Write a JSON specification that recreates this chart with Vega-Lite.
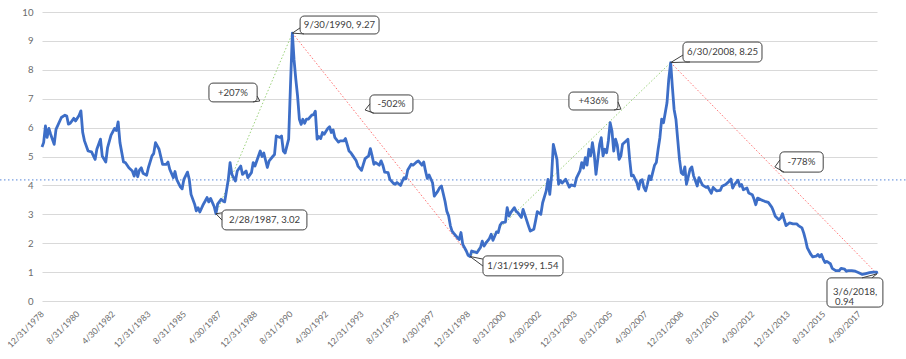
{
  "$schema": "https://vega.github.io/schema/vega-lite/v6.json",
  "width": 835,
  "height": 289,
  "autosize": {"type": "none"},
  "padding": {"left": 42, "top": 12, "right": 29, "bottom": 58},
  "background": "white",
  "config": {"view": {"stroke": null}, "font": "Lato"},
  "datasets": {
    "series": [
      {"d":"1978-12-31","v":5.33},{"d":"1979-01-28","v":5.48},{"d":"1979-02-28","v":6.06},{"d":"1979-03-28","v":5.66},{"d":"1979-04-28","v":5.97},{"d":"1979-05-28","v":5.77},{"d":"1979-07-28","v":5.42},{"d":"1979-08-28","v":5.94},{"d":"1979-11-28","v":6.35},
      {"d":"1980-01-28","v":6.43},{"d":"1980-02-28","v":6.4},{"d":"1980-03-28","v":6.12},{"d":"1980-04-28","v":6.15},{"d":"1980-06-28","v":6.32},{"d":"1980-07-28","v":6.23},{"d":"1980-09-28","v":6.43},{"d":"1980-10-28","v":6.58},{"d":"1980-11-28","v":5.83},{"d":"1980-12-28","v":5.54},
      {"d":"1981-02-28","v":5.19},{"d":"1981-04-28","v":5.16},{"d":"1981-06-28","v":4.9},{"d":"1981-07-28","v":5.25},{"d":"1981-09-28","v":5.6},{"d":"1981-10-28","v":5.02},{"d":"1981-12-28","v":4.81},
      {"d":"1982-01-28","v":5.31},{"d":"1982-03-28","v":5.74},{"d":"1982-05-28","v":5.97},{"d":"1982-06-28","v":5.9},{"d":"1982-07-28","v":6.2},{"d":"1982-08-28","v":5.48},{"d":"1982-10-28","v":4.81},{"d":"1982-11-28","v":4.79},
      {"d":"1983-01-28","v":4.61},{"d":"1983-03-28","v":4.5},{"d":"1983-04-28","v":4.32},{"d":"1983-05-28","v":4.57},{"d":"1983-06-28","v":4.3},{"d":"1983-07-28","v":4.53},{"d":"1983-08-28","v":4.61},{"d":"1983-09-28","v":4.42},{"d":"1983-11-28","v":4.35},{"d":"1983-12-28","v":4.61},
      {"d":"1984-02-28","v":5.02},{"d":"1984-03-28","v":5.1},{"d":"1984-04-28","v":5.48},{"d":"1984-06-28","v":5.25},{"d":"1984-08-28","v":4.73},{"d":"1984-10-28","v":4.73},{"d":"1984-11-28","v":4.81},{"d":"1984-12-28","v":4.56},
      {"d":"1985-02-28","v":4.27},{"d":"1985-03-28","v":4.48},{"d":"1985-04-28","v":4.2},{"d":"1985-06-28","v":3.95},{"d":"1985-07-28","v":3.88},{"d":"1985-08-28","v":4.21},{"d":"1985-10-28","v":4.46},{"d":"1985-11-28","v":4.21},{"d":"1985-12-28","v":3.69},
      {"d":"1986-02-28","v":3.35},{"d":"1986-03-28","v":3.12},{"d":"1986-04-28","v":3.23},{"d":"1986-05-28","v":3.08},{"d":"1986-07-28","v":3.35},{"d":"1986-08-28","v":3.46},{"d":"1986-09-28","v":3.58},{"d":"1986-10-28","v":3.43},{"d":"1986-11-28","v":3.55},
      {"d":"1987-01-28","v":3.27},{"d":"1987-02-28","v":3.02},{"d":"1987-03-28","v":3.35},{"d":"1987-05-28","v":3.52},{"d":"1987-06-28","v":3.46},{"d":"1987-07-28","v":3.43},{"d":"1987-09-28","v":4.21},{"d":"1987-10-28","v":4.79},{"d":"1987-11-28","v":4.38},
      {"d":"1988-01-28","v":4.15},{"d":"1988-02-28","v":4.5},{"d":"1988-04-28","v":4.67},{"d":"1988-05-28","v":4.38},{"d":"1988-07-28","v":4.5},{"d":"1988-08-28","v":4.27},{"d":"1988-10-28","v":4.44},{"d":"1988-11-28","v":4.79},{"d":"1988-12-28","v":4.67},
      {"d":"1989-03-28","v":5.19},{"d":"1989-04-28","v":5.0},{"d":"1989-05-28","v":5.12},{"d":"1989-07-28","v":4.62},{"d":"1989-08-28","v":4.85},{"d":"1989-10-28","v":5.0},{"d":"1989-11-28","v":5.07},{"d":"1989-12-28","v":5.71},
      {"d":"1990-02-28","v":5.66},{"d":"1990-03-28","v":5.71},{"d":"1990-04-28","v":5.19},{"d":"1990-05-28","v":5.12},{"d":"1990-07-28","v":5.6},{"d":"1990-08-28","v":7.44},{"d":"1990-09-30","v":9.27},{"d":"1990-10-28","v":8.36},{"d":"1990-11-28","v":7.67},{"d":"1990-12-28","v":7.09},
      {"d":"1991-01-28","v":6.29},{"d":"1991-02-28","v":6.11},{"d":"1991-03-28","v":6.29},{"d":"1991-04-28","v":6.15},{"d":"1991-05-28","v":6.29},{"d":"1991-06-28","v":6.29},{"d":"1991-08-28","v":6.43},{"d":"1991-09-28","v":6.45},{"d":"1991-10-28","v":6.57},{"d":"1991-11-28","v":5.6},{"d":"1991-12-28","v":5.69},
      {"d":"1992-01-28","v":5.62},{"d":"1992-02-28","v":5.83},{"d":"1992-03-28","v":5.77},{"d":"1992-05-28","v":5.97},{"d":"1992-06-28","v":6.03},{"d":"1992-07-28","v":5.83},{"d":"1992-08-28","v":5.92},{"d":"1992-09-28","v":5.65},{"d":"1992-11-28","v":5.5},{"d":"1992-12-28","v":5.54},
      {"d":"1993-02-28","v":5.54},{"d":"1993-03-28","v":5.62},{"d":"1993-05-28","v":5.19},{"d":"1993-06-28","v":5.13},{"d":"1993-07-28","v":5.04},{"d":"1993-09-28","v":4.85},{"d":"1993-10-28","v":4.67},{"d":"1993-12-28","v":4.52},
      {"d":"1994-01-28","v":4.73},{"d":"1994-02-28","v":4.93},{"d":"1994-04-28","v":5.02},{"d":"1994-05-28","v":5.27},{"d":"1994-06-28","v":5.02},{"d":"1994-07-28","v":4.73},{"d":"1994-08-28","v":4.79},{"d":"1994-10-28","v":4.7},{"d":"1994-11-28","v":4.85},{"d":"1994-12-28","v":4.7},
      {"d":"1995-01-28","v":4.46},{"d":"1995-03-28","v":4.44},{"d":"1995-04-28","v":4.21},{"d":"1995-06-28","v":4.07},{"d":"1995-07-28","v":4.04},{"d":"1995-08-28","v":4.1},{"d":"1995-10-28","v":4.0},{"d":"1995-11-28","v":4.15},{"d":"1995-12-28","v":4.27},
      {"d":"1996-01-28","v":4.23},{"d":"1996-02-28","v":4.53},{"d":"1996-04-28","v":4.73},{"d":"1996-05-28","v":4.7},{"d":"1996-07-28","v":4.81},{"d":"1996-08-28","v":4.85},{"d":"1996-10-28","v":4.7},{"d":"1996-11-28","v":4.81},{"d":"1996-12-28","v":4.5},
      {"d":"1997-01-28","v":4.24},{"d":"1997-02-28","v":4.36},{"d":"1997-04-28","v":4.09},{"d":"1997-05-28","v":3.63},{"d":"1997-07-28","v":3.8},{"d":"1997-08-28","v":3.92},{"d":"1997-09-28","v":3.98},{"d":"1997-11-28","v":3.45},{"d":"1997-12-28","v":3.11},
      {"d":"1998-01-28","v":2.95},{"d":"1998-02-28","v":2.6},{"d":"1998-03-28","v":2.42},{"d":"1998-04-28","v":2.34},{"d":"1998-06-28","v":2.19},{"d":"1998-07-28","v":2.13},{"d":"1998-08-28","v":2.37},{"d":"1998-09-28","v":1.96},{"d":"1998-11-28","v":1.73},{"d":"1998-12-28","v":1.58},
      {"d":"1999-01-31","v":1.54},{"d":"1999-02-28","v":1.73},{"d":"1999-04-28","v":1.69},{"d":"1999-05-28","v":1.67},{"d":"1999-07-28","v":1.85},{"d":"1999-08-28","v":2.07},{"d":"1999-09-28","v":1.9},{"d":"1999-10-28","v":2.0},{"d":"1999-12-28","v":2.16},
      {"d":"2000-01-28","v":2.31},{"d":"2000-02-28","v":2.1},{"d":"2000-04-28","v":2.39},{"d":"2000-05-28","v":2.37},{"d":"2000-06-28","v":2.62},{"d":"2000-07-28","v":2.71},{"d":"2000-09-28","v":2.73},{"d":"2000-10-28","v":3.23},{"d":"2000-11-28","v":2.94},{"d":"2000-12-28","v":3.06},
      {"d":"2001-02-28","v":3.23},{"d":"2001-03-28","v":3.11},{"d":"2001-04-28","v":3.06},{"d":"2001-06-28","v":2.89},{"d":"2001-07-28","v":3.17},{"d":"2001-08-28","v":2.98},{"d":"2001-10-28","v":2.6},{"d":"2001-11-28","v":2.42},
      {"d":"2002-01-28","v":2.48},{"d":"2002-02-28","v":2.79},{"d":"2002-03-28","v":3.09},{"d":"2002-05-28","v":3.0},{"d":"2002-06-28","v":3.4},{"d":"2002-08-28","v":3.81},{"d":"2002-09-28","v":4.21},{"d":"2002-10-28","v":3.69},{"d":"2002-11-28","v":4.33},{"d":"2002-12-28","v":5.42},
      {"d":"2003-02-28","v":4.9},{"d":"2003-03-28","v":4.04},{"d":"2003-04-28","v":4.17},{"d":"2003-05-28","v":4.08},{"d":"2003-07-28","v":4.21},{"d":"2003-08-28","v":4.08},{"d":"2003-09-28","v":3.94},{"d":"2003-10-28","v":4.02},{"d":"2003-12-28","v":3.98},
      {"d":"2004-01-28","v":4.25},{"d":"2004-03-28","v":4.5},{"d":"2004-04-28","v":4.79},{"d":"2004-05-28","v":4.6},{"d":"2004-06-28","v":4.96},{"d":"2004-07-28","v":4.7},{"d":"2004-08-28","v":5.25},{"d":"2004-09-28","v":5.02},{"d":"2004-10-28","v":5.48},{"d":"2004-11-28","v":5.07},{"d":"2004-12-28","v":4.38},
      {"d":"2005-01-28","v":4.9},{"d":"2005-02-28","v":5.42},{"d":"2005-03-28","v":5.65},{"d":"2005-04-28","v":5.02},{"d":"2005-05-28","v":5.25},{"d":"2005-06-28","v":5.13},{"d":"2005-07-28","v":5.54},{"d":"2005-08-28","v":6.17},{"d":"2005-09-28","v":5.88},{"d":"2005-10-28","v":5.19},{"d":"2005-11-28","v":5.6},{"d":"2005-12-28","v":5.39},
      {"d":"2006-01-28","v":4.9},{"d":"2006-02-28","v":5.02},{"d":"2006-03-28","v":5.42},{"d":"2006-05-28","v":5.54},{"d":"2006-06-28","v":5.6},{"d":"2006-07-28","v":4.9},{"d":"2006-08-28","v":4.33},{"d":"2006-09-28","v":4.35},{"d":"2006-11-28","v":4.1},{"d":"2006-12-28","v":3.87},
      {"d":"2007-01-28","v":4.16},{"d":"2007-02-28","v":4.2},{"d":"2007-03-28","v":3.93},{"d":"2007-04-28","v":3.81},{"d":"2007-05-28","v":4.04},{"d":"2007-06-28","v":4.33},{"d":"2007-07-28","v":4.2},{"d":"2007-09-28","v":4.7},{"d":"2007-10-28","v":4.79},{"d":"2007-11-28","v":5.25},{"d":"2007-12-28","v":5.65},
      {"d":"2008-01-28","v":6.29},{"d":"2008-02-28","v":6.17},{"d":"2008-04-28","v":6.86},{"d":"2008-05-28","v":7.67},{"d":"2008-06-30","v":8.25},{"d":"2008-07-28","v":7.44},{"d":"2008-08-28","v":6.63},{"d":"2008-09-28","v":6.29},{"d":"2008-10-28","v":5.6},{"d":"2008-11-28","v":4.9},{"d":"2008-12-28","v":4.44},
      {"d":"2009-01-28","v":4.38},{"d":"2009-02-28","v":4.64},{"d":"2009-03-28","v":4.04},{"d":"2009-05-28","v":4.56},{"d":"2009-06-28","v":4.64},{"d":"2009-07-28","v":4.33},{"d":"2009-08-28","v":4.16},{"d":"2009-09-28","v":3.98},{"d":"2009-10-28","v":4.27},{"d":"2009-11-28","v":4.13},{"d":"2009-12-28","v":4.01},
      {"d":"2010-02-28","v":3.93},{"d":"2010-03-28","v":3.96},{"d":"2010-04-28","v":3.84},{"d":"2010-05-28","v":3.73},{"d":"2010-06-28","v":3.93},{"d":"2010-07-28","v":3.87},{"d":"2010-08-28","v":3.81},{"d":"2010-10-28","v":3.83},{"d":"2010-11-28","v":3.97},
      {"d":"2011-01-28","v":4.03},{"d":"2011-03-28","v":4.14},{"d":"2011-04-28","v":4.22},{"d":"2011-05-28","v":3.91},{"d":"2011-06-28","v":4.03},{"d":"2011-08-28","v":4.18},{"d":"2011-09-28","v":3.97},{"d":"2011-10-28","v":4.03},{"d":"2011-11-28","v":3.85},
      {"d":"2012-01-28","v":3.91},{"d":"2012-02-28","v":3.74},{"d":"2012-04-28","v":3.68},{"d":"2012-05-28","v":3.53},{"d":"2012-06-28","v":3.33},{"d":"2012-07-28","v":3.56},{"d":"2012-09-28","v":3.5},{"d":"2012-11-28","v":3.45},
      {"d":"2013-01-28","v":3.41},{"d":"2013-03-28","v":3.25},{"d":"2013-04-28","v":3.1},{"d":"2013-05-28","v":2.93},{"d":"2013-07-28","v":2.81},{"d":"2013-08-28","v":2.87},{"d":"2013-09-28","v":3.02},{"d":"2013-10-28","v":2.81},{"d":"2013-11-28","v":2.61},
      {"d":"2014-01-28","v":2.7},{"d":"2014-03-28","v":2.67},{"d":"2014-05-28","v":2.67},{"d":"2014-06-28","v":2.61},{"d":"2014-08-28","v":2.53},{"d":"2014-09-28","v":2.35},{"d":"2014-10-28","v":2.12},{"d":"2014-11-28","v":1.84},
      {"d":"2015-01-28","v":1.61},{"d":"2015-02-28","v":1.53},{"d":"2015-04-28","v":1.55},{"d":"2015-05-28","v":1.61},{"d":"2015-06-28","v":1.53},{"d":"2015-07-28","v":1.61},{"d":"2015-08-28","v":1.45},{"d":"2015-09-28","v":1.33},{"d":"2015-10-28","v":1.37},{"d":"2015-12-28","v":1.29},
      {"d":"2016-01-28","v":1.13},{"d":"2016-03-28","v":1.05},{"d":"2016-05-28","v":1.05},{"d":"2016-06-28","v":1.13},{"d":"2016-08-28","v":1.1},{"d":"2016-09-28","v":1.03},{"d":"2016-10-28","v":1.05},{"d":"2016-12-28","v":1.05},
      {"d":"2017-02-28","v":1.03},{"d":"2017-04-28","v":0.98},{"d":"2017-06-28","v":0.92},{"d":"2017-08-28","v":0.95},{"d":"2017-10-28","v":0.98},{"d":"2017-12-28","v":1.0},{"d":"2018-02-28","v":1.0},{"d":"2018-03-06","v":0.94}
    ],
    "mean": [{"d":"1977-01-10","d2":"2019-08-01","v":4.19}],
    "up": [
      {"d":"1987-02-28","d2":"1990-09-30","v":3.02,"v2":9.27},
      {"d":"1999-01-31","d2":"2008-06-30","v":1.54,"v2":8.25}
    ],
    "down": [
      {"d":"1990-09-30","d2":"1999-01-31","v":9.27,"v2":1.54},
      {"d":"2008-06-30","d2":"2018-03-06","v":8.25,"v2":0.94}
    ],
    "boxes": [
      {"d":"1991-02-09","d2":"1994-10-24","v":9.86,"v2":9.24},
      {"d":"1986-10-31","d2":"1989-02-03","v":7.54,"v2":6.89},
      {"d":"1994-05-21","d2":"1996-05-27","v":7.13,"v2":6.5},
      {"d":"1987-06-12","d2":"1991-06-06","v":3.15,"v2":2.46},
      {"d":"1999-09-09","d2":"2003-06-12","v":1.56,"v2":0.87},
      {"d":"2003-09-21","d2":"2006-01-09","v":7.23,"v2":6.61},
      {"d":"2009-01-27","d2":"2012-10-12","v":8.96,"v2":8.27},
      {"d":"2013-08-15","d2":"2015-08-27","v":5.16,"v2":4.46},
      {"d":"2015-10-31","d2":"2018-06-15","v":0.8,"v2":-0.21}
    ],
    "pointers": [
      {"id":1,"o":1,"d":"1991-02-09","v":9.45},{"id":1,"o":2,"d":"1990-09-30","v":9.27},{"id":1,"o":3,"d":"1991-04-15","v":9.24},
      {"id":2,"o":1,"d":"1989-02-03","v":7.09},{"id":2,"o":2,"d":"1989-03-21","v":6.92},{"id":2,"o":3,"d":"1988-11-24","v":6.89},
      {"id":3,"o":1,"d":"1994-05-21","v":6.82},{"id":3,"o":2,"d":"1994-02-27","v":6.61},{"id":3,"o":3,"d":"1994-07-27","v":6.5},
      {"id":4,"o":1,"d":"1987-06-12","v":3.05},{"id":4,"o":2,"d":"1987-02-28","v":3.02},{"id":4,"o":3,"d":"1987-06-12","v":2.8},
      {"id":5,"o":1,"d":"1999-09-09","v":1.45},{"id":5,"o":2,"d":"1999-01-31","v":1.54},{"id":5,"o":3,"d":"1999-09-09","v":1.21},
      {"id":6,"o":1,"d":"2006-01-09","v":6.89},{"id":6,"o":2,"d":"2006-02-28","v":6.64},{"id":6,"o":3,"d":"2005-11-03","v":6.61},
      {"id":7,"o":1,"d":"2009-01-27","v":8.51},{"id":7,"o":2,"d":"2008-06-30","v":8.25},{"id":7,"o":3,"d":"2009-05-27","v":8.27},
      {"id":8,"o":1,"d":"2013-08-15","v":4.88},{"id":8,"o":2,"d":"2013-05-21","v":4.64},{"id":8,"o":3,"d":"2013-10-24","v":4.46},
      {"id":9,"o":1,"d":"2017-06-21","v":0.8},{"id":9,"o":2,"d":"2018-03-06","v":0.94},{"id":9,"o":3,"d":"2017-12-09","v":0.8}
    ],
    "labels": [
      {"d":"1992-12-15","v":9.55,"t":"9/30/1990, 9.27"},
      {"d":"1987-12-15","v":7.21,"t":"+207%"},
      {"d":"1995-05-24","v":6.82,"t":"-502%"},
      {"d":"1989-06-09","v":2.8,"t":"2/28/1987, 3.02"},
      {"d":"2001-07-24","v":1.21,"t":"1/31/1999, 1.54"},
      {"d":"2004-11-15","v":6.92,"t":"+436%"},
      {"d":"2010-12-06","v":8.62,"t":"6/30/2008, 8.25"},
      {"d":"2014-08-18","v":4.81,"t":"-778%"},
      {"d":"2017-02-24","v":0.32,"t":"3/6/2018,"},
      {"d":"2016-08-27","v":-0.04,"t":"0.94"}
    ]
  },
  "encoding": {
    "x": {
      "field": "d", "type": "temporal",
      "scale": {"type": "utc", "domain": [{"year":1978,"month":12,"date":31,"utc":true},{"year":2018,"month":3,"date":6,"utc":true}], "nice": false},
      "axis": {
        "values": [
          {"year":1978,"month":12,"date":31,"utc":true},{"year":1980,"month":8,"date":31,"utc":true},{"year":1982,"month":4,"date":30,"utc":true},
          {"year":1983,"month":12,"date":31,"utc":true},{"year":1985,"month":8,"date":31,"utc":true},{"year":1987,"month":4,"date":30,"utc":true},
          {"year":1988,"month":12,"date":31,"utc":true},{"year":1990,"month":8,"date":31,"utc":true},{"year":1992,"month":4,"date":30,"utc":true},
          {"year":1993,"month":12,"date":31,"utc":true},{"year":1995,"month":8,"date":31,"utc":true},{"year":1997,"month":4,"date":30,"utc":true},
          {"year":1998,"month":12,"date":31,"utc":true},{"year":2000,"month":8,"date":31,"utc":true},{"year":2002,"month":4,"date":30,"utc":true},
          {"year":2003,"month":12,"date":31,"utc":true},{"year":2005,"month":8,"date":31,"utc":true},{"year":2007,"month":4,"date":30,"utc":true},
          {"year":2008,"month":12,"date":31,"utc":true},{"year":2010,"month":8,"date":31,"utc":true},{"year":2012,"month":4,"date":30,"utc":true},
          {"year":2013,"month":12,"date":31,"utc":true},{"year":2015,"month":8,"date":31,"utc":true},{"year":2017,"month":4,"date":30,"utc":true}
        ],
        "labelExpr": "utcFormat(datum.value, '%-m/%-d/%Y')",
        "labelAngle": -45, "labelAlign": "right", "labelBaseline": "middle",
        "labelFontSize": 8.6, "labelColor": "#6b6b6b", "labelFont": "Lato",
        "labelPadding": 11, "labelOverlap": false, "labelBound": false, "labelFlush": false,
        "ticks": false, "domain": false, "grid": false, "title": null
      }
    },
    "y": {
      "field": "v", "type": "quantitative",
      "scale": {"domain": [0, 10], "nice": false, "zero": false},
      "axis": {
        "values": [0,1,2,3,4,5,6,7,8,9,10],
        "grid": true, "gridColor": "#d9d9d9", "gridWidth": 1,
        "domain": false, "ticks": false, "labelPadding": 9,
        "labelFontSize": 9.6, "labelColor": "#6b6b6b", "labelFont": "Lato",
        "title": null
      }
    }
  },
  "layer": [
    {
      "data": {"name": "mean"},
      "mark": {"type": "rule", "color": "#5585d8", "strokeWidth": 1, "strokeDash": [1.5, 2.5]},
      "encoding": {"x2": {"field": "d2"}}
    },
    {
      "data": {"name": "up"},
      "mark": {"type": "rule", "color": "#9bd27a", "strokeWidth": 1, "strokeDash": [1.5, 2]},
      "encoding": {"x2": {"field": "d2"}, "y2": {"field": "v2"}}
    },
    {
      "data": {"name": "down"},
      "mark": {"type": "rule", "color": "#ff6f6f", "strokeWidth": 1, "strokeDash": [1.5, 2]},
      "encoding": {"x2": {"field": "d2"}, "y2": {"field": "v2"}}
    },
    {
      "data": {"name": "series"},
      "mark": {"type": "line", "color": "#3d6ec7", "strokeWidth": 2.8, "strokeJoin": "round"}
    },
    {
      "data": {"name": "boxes"},
      "mark": {"type": "rect", "fill": "white", "stroke": "#404040", "strokeWidth": 1, "cornerRadius": 4},
      "encoding": {"x2": {"field": "d2"}, "y2": {"field": "v2"}}
    },
    {
      "data": {"name": "pointers"},
      "mark": {"type": "line", "color": "#404040", "strokeWidth": 1},
      "encoding": {"detail": {"field": "id"}, "order": {"field": "o"}}
    },
    {
      "data": {"name": "labels"},
      "mark": {"type": "text", "font": "Lato", "fontSize": 9.6, "color": "#404040", "align": "center", "baseline": "middle"},
      "encoding": {"text": {"field": "t"}}
    }
  ]
}
